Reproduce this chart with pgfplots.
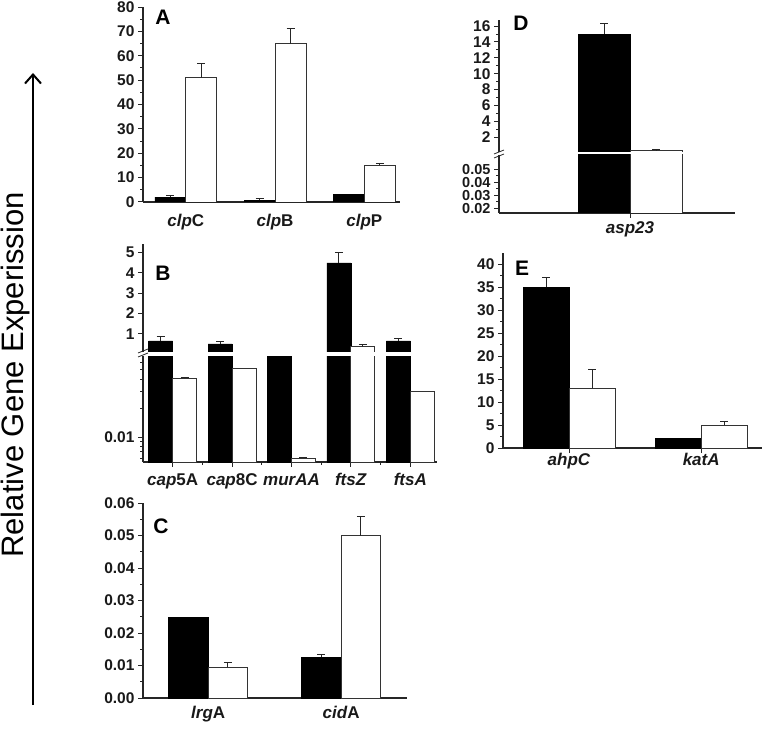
\documentclass[border=0pt]{standalone}
\usepackage{fontspec}
\setmainfont{Liberation Sans}
\usepackage{pgfplots}
\pgfplotsset{compat=1.18}
\usetikzlibrary{arrows.meta}

\pgfplotsset{
  panel/.style={
    scale only axis,
    anchor=south west,
    axis x line=bottom,
    axis y line=left,
    axis line style={-, line width=1.1pt, black!85},
    tick align=outside,
    tick style={line width=1pt, black!85},
    major tick length=5pt,
    minor tick length=3pt,
    scaled y ticks=false,
    /pgf/number format/assume math mode=true,
    yticklabel style={font=\bfseries\fontsize{15.5}{15.5}\selectfont, text=black!90},
    xticklabel style={font=\bfseries\fontsize{17}{17}\selectfont, text=black!90},
    ybar,
    error bars/y dir=plus,
    error bars/y explicit,
    error bars/error bar style={line width=0.9pt, black!85},
    error bars/error mark options={rotate=90, line width=0.9pt, black!85, mark size=4pt},
  },
  noerr/.style={error bars/y dir=none},
}
\tikzset{
  blk/.style={fill=black, draw=black},
  wht/.style={fill=white, draw=black!80, line width=0.9pt},
  lbl/.style={font=\bfseries\fontsize{21}{21}\selectfont},
}

\begin{document}
\begin{tikzpicture}
\useasboundingbox (0pt,0pt) rectangle (769pt,-730pt);

% A
\begin{axis}[panel, at={(143pt,-202pt)}, width=257pt, height=195pt,
  xmin=-0.48, xmax=2.4, ymin=0, ymax=80,
  ytick={0,10,...,80}, minor y tick num=1,
  xtick={0,1,2}, xtick style={draw=none}, xticklabel style={yshift=-4pt},
  xticklabels={{\textit{clp}C},{\textit{clp}B},{\textit{clp}P}},
  bar width=31pt]
\addplot[blk, bar shift=-15.5pt] coordinates {(0,2) +- (0,0.5) (1,0.8) +- (0,0.5)};
\addplot[blk, noerr, bar shift=-15.5pt] coordinates {(2,3)};
\addplot[wht, bar shift=15.5pt] coordinates {(0,51) +- (0,6) (1,65) +- (0,6) (2,15) +- (0,1)};
\end{axis}
\node[lbl] at (163pt,-17pt) {A};

% B upper
\begin{axis}[panel, at={(143pt,-352pt)}, width=294pt, height=108pt,
  axis x line=none,
  xmin=-0.5, xmax=4.45, ymin=0.1, ymax=5.43,
  restrict y to domain=0.1:100,
  ytick={1,...,5}, bar width=24pt]
\addplot[blk, bar shift=-12pt] coordinates {(0,0.65) +- (0,0.2) (1,0.5) +- (0,0.1) (3,4.5) +- (0,0.5) (4,0.65) +- (0,0.1)};
\addplot[blk, noerr, bar shift=-12pt] coordinates {(2,0.0715)};
\addplot[wht, bar shift=12pt] coordinates {(0,0.041) +- (0,0.001) (2,0.006) +- (0,0.0002) (3,0.35) +- (0,0.12)};
\addplot[wht, noerr, bar shift=12pt] coordinates {(1,0.052) (4,0.030)};
\end{axis}
% B lower
\begin{axis}[panel, at={(143pt,-462pt)}, width=294pt, height=106pt,
  ymode=log, log origin y=infty,
  xmin=-0.5, xmax=4.45, ymin=0.0055, ymax=0.0698,
  ytick={0.01}, yticklabels={0.01},
  minor ytick={0.006,0.007,0.008,0.009,0.02,0.03,0.04,0.05,0.06},
  xtick={0,1,2,3,4}, minor xtick={0.5,1.5,2.5,3.5}, xticklabel style={yshift=-3pt},
  xticklabels={{\textit{cap}5A},{\textit{cap}8C},{\textit{murAA}},{\textit{ftsZ}},{\textit{ftsA}}},
  bar width=24pt]
\addplot[blk, bar shift=-12pt] coordinates {(0,0.65) +- (0,0.2) (1,0.5) +- (0,0.1) (3,4.5) +- (0,0.5) (4,0.65) +- (0,0.1)};
\addplot[blk, noerr, bar shift=-12pt] coordinates {(2,0.0715)};
\addplot[wht, bar shift=12pt] coordinates {(0,0.041) +- (0,0.001) (2,0.006) +- (0,0.0002) (3,0.35) +- (0,0.12)};
\addplot[wht, noerr, bar shift=12pt] coordinates {(1,0.052) (4,0.030)};
\end{axis}
\draw[line width=0.8pt, black!85] (138pt,-353pt) -- (148pt,-349pt) (138pt,-357pt) -- (148pt,-353pt);
\node[lbl] at (163pt,-273pt) {B};

% C
\begin{axis}[panel, at={(143pt,-698pt)}, width=264pt, height=195pt,
  xmin=-0.49, xmax=1.495, ymin=0, ymax=0.06,
  ytick={0,0.01,0.02,0.03,0.04,0.05,0.06},
  yticklabels={0.00,0.01,0.02,0.03,0.04,0.05,0.06}, minor y tick num=1,
  xtick={0,1}, xtick style={draw=none},
  xticklabels={{\textit{lrg}A},{\textit{cid}A}},
  bar width=39.5pt]
\addplot[blk, noerr, bar shift=-19.75pt] coordinates {(0,0.025)};
\addplot[blk, bar shift=-19.75pt] coordinates {(1,0.0125) +- (0,0.001)};
\addplot[wht, bar shift=19.75pt] coordinates {(0,0.0095) +- (0,0.0015) (1,0.050) +- (0,0.006)};
\end{axis}
\node[lbl] at (161pt,-526pt) {C};

% D upper
\begin{axis}[panel, at={(499pt,-152pt)}, width=236pt, height=132pt,
  axis x line=none,
  xmin=-1.31, xmax=1.05, ymin=0.126, ymax=16.77,
  ytick={2,4,...,16}, minor y tick num=1, bar width=52pt]
\addplot[blk, bar shift=-26pt] coordinates {(0,15) +- (0,1.3)};
\addplot[wht, bar shift=26pt] coordinates {(0,0.3) +- (0,0.1)};
\end{axis}
% D lower
\begin{axis}[panel, at={(499pt,-213pt)}, width=236pt, height=58pt,
  xmin=-1.31, xmax=1.05, ymin=0.0162, ymax=0.0608,
  restrict y to domain*=0:0.07,
  ytick={0.02,0.03,0.04,0.05}, yticklabels={0.02,0.03,0.04,0.05},
  yticklabel style={font=\bfseries\fontsize{14.5}{14.5}\selectfont},
  minor y tick num=1,
  xtick={0}, xticklabels={{\textit{asp23}}}, bar width=52pt]
\addplot[blk, noerr, bar shift=-26pt] coordinates {(0,15)};
\addplot[wht, noerr, bar shift=26pt] coordinates {(0,0.3)};
\end{axis}
\draw[line width=0.8pt, black!85] (494pt,-154pt) -- (504pt,-150pt) (494pt,-158pt) -- (504pt,-154pt);
\node[lbl] at (521pt,-23pt) {D};

% E
\begin{axis}[panel, at={(503pt,-448pt)}, width=259pt, height=195pt,
  xmin=-0.5, xmax=1.46, ymin=0, ymax=42.5,
  ytick={0,5,...,40}, minor y tick num=1,
  xtick={0,1}, xticklabel style={yshift=3pt},
  xticklabels={{\textit{ahpC}},{\textit{katA}}},
  bar width=46pt]
\addplot[blk, bar shift=-23pt] coordinates {(0,35) +- (0,2.1)};
\addplot[blk, noerr, bar shift=-23pt] coordinates {(1,2.2)};
\addplot[wht, bar shift=23pt] coordinates {(0,13) +- (0,4.1) (1,5) +- (0,0.7)};
\end{axis}
\node[lbl] at (522pt,-268pt) {E};

% shared axis title
\draw[line width=2.2pt, -{Straight Barb[length=9pt, width=16pt, line width=2pt]}] (33pt,-705pt) -- (33pt,-73pt);
\node[rotate=90, font=\fontsize{31}{31}\selectfont] at (15pt,-375pt) {Relative Gene Experission};
\end{tikzpicture}
\end{document}
